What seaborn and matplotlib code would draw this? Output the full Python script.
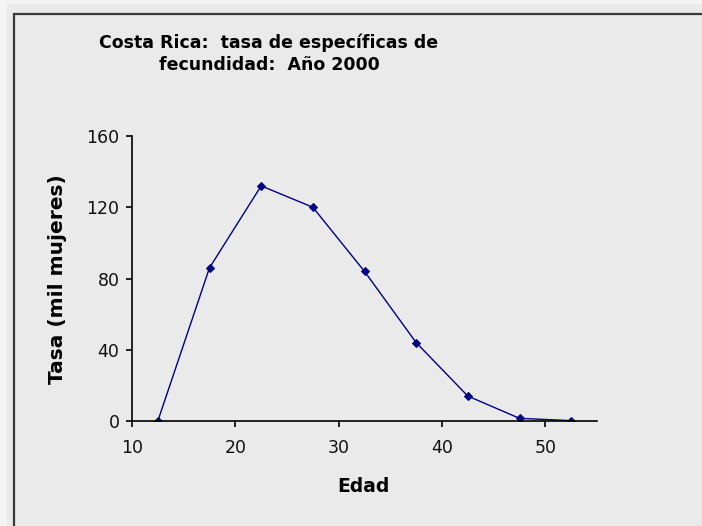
import matplotlib
matplotlib.use("Agg")
import matplotlib.pyplot as plt
import seaborn as sns
import pandas as pd
from matplotlib.patches import Rectangle

# data
edad = [12.5, 17.5, 22.5, 27.5, 32.5, 37.5, 42.5, 47.5, 52.5]
tasa = [0, 86, 132, 120, 84, 44, 14, 1.5, 0.2]
y_ticks = [0, 40, 80, 120, 160]
x_ticks = [10, 20, 30, 40, 50]

df = pd.DataFrame({"Edad": edad, "Tasa": tasa})

sns.set_style("ticks")
plt.rcParams["font.family"] = ["DejaVu Sans"]
plt.rcParams["text.color"] = "black"

bg = "#eaeaea"
W, H = 702, 526
fig = plt.figure(figsize=(W / 100, H / 100), dpi=100)
fig.patch.set_facecolor("#f4f4f4")

# chart area and its frame
fig.patches.append(Rectangle((7 / W, 0), 1, 1 - 4 / H, transform=fig.transFigure,
                             facecolor=bg, edgecolor="none", zorder=-2))
fig.patches.append(Rectangle((14 / W, -0.05), 1, 1 - 14 / H + 0.05, transform=fig.transFigure,
                             facecolor="none", edgecolor="#3a3a3a", linewidth=1.6, zorder=-1))

ax = fig.add_axes([132 / W, 1 - 421 / H, (597 - 132) / W, (421 - 136) / H])
ax.set_facecolor(bg)

sns.lineplot(data=df, x="Edad", y="Tasa", ax=ax, color="#000080", linewidth=1,
             marker="D", markersize=4.5, markeredgecolor="#000080")

ax.set_xlim(10, 55)
ax.set_ylim(0, 160)
ax.set_xticks(x_ticks)
ax.set_yticks(y_ticks)
ax.tick_params(axis="both", direction="out", length=4, width=1.2, colors="black",
               labelsize=12.5, labelcolor="#111111")
ax.tick_params(axis="x", pad=9)
ax.tick_params(axis="y", pad=5)
for s in ["top", "right"]:
    ax.spines[s].set_visible(False)
for s in ["left", "bottom"]:
    ax.spines[s].set_linewidth(1.2)
    ax.spines[s].set_color("black")
ax.set_xlabel("")
ax.set_ylabel("")

fig.text(269 / W, 1 - 54 / H, "Costa Rica:  tasa de específicas de\nfecundidad:  Año 2000",
         ha="center", va="center", fontsize=12.5, fontweight="bold", linespacing=1.3,
         color="black")
fig.text(363 / W, 1 - 487 / H, "Edad", ha="center", va="center", fontsize=13.5,
         fontweight="bold", color="black")
fig.text(58 / W, 1 - 279 / H, "Tasa (mil mujeres)", ha="center", va="center",
         rotation=90, fontsize=14.5, fontweight="bold", color="black")

fig.savefig("out.png", dpi=100, facecolor=fig.get_facecolor())
